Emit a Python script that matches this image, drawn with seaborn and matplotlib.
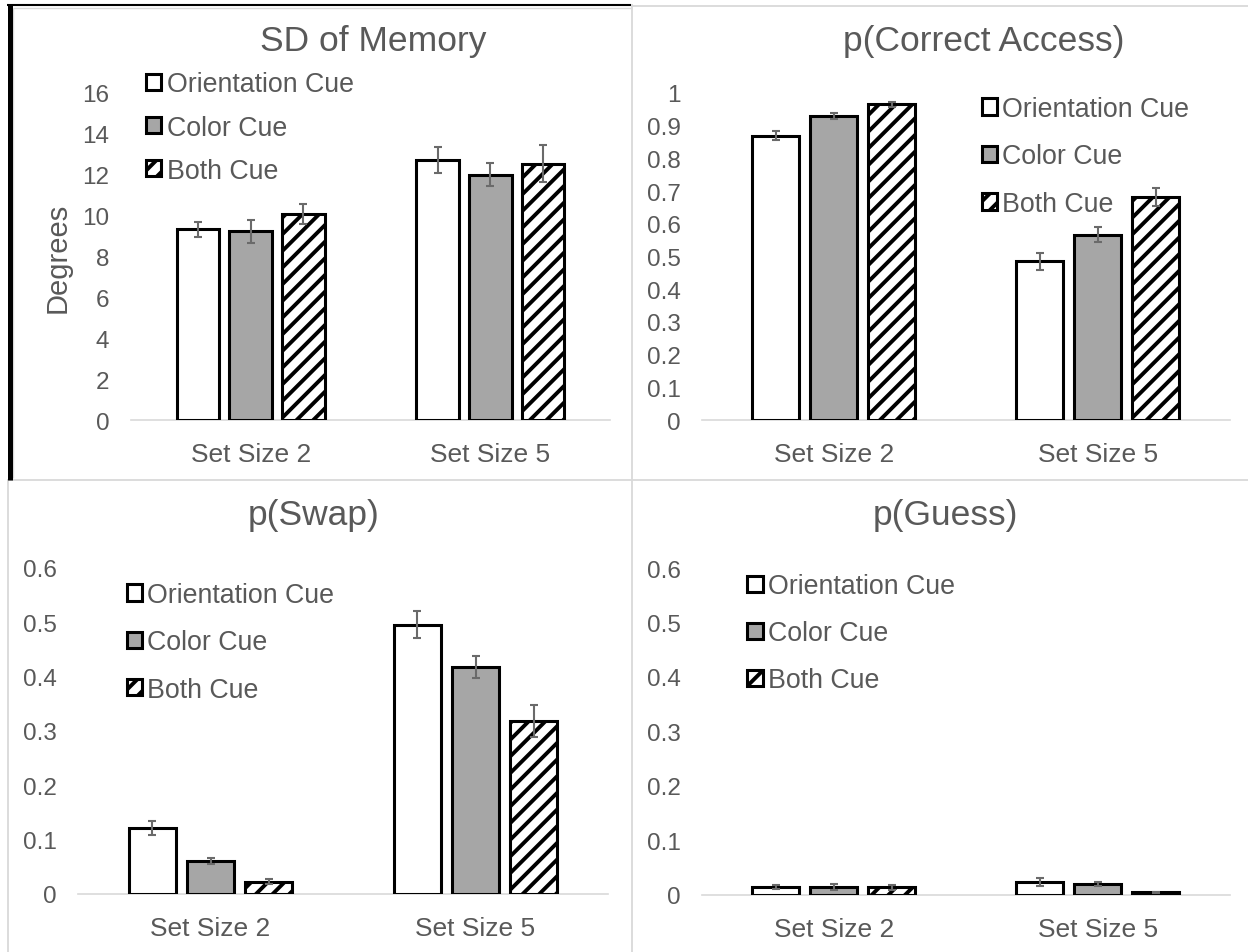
import numpy as np
import pandas as pd
import matplotlib
matplotlib.use("Agg")
import matplotlib.pyplot as plt
import seaborn as sns
from matplotlib.patches import Patch
from matplotlib.lines import Line2D

# ---------------- data ----------------
set_sizes = ["Set Size 2", "Set Size 5"]
cues = ["Orientation Cue", "Color Cue", "Both Cue"]

# rows: cues (Orientation, Color, Both); columns: set sizes (2, 5)
sd_means = [[9.33, 12.73], [9.23, 12.00], [10.07, 12.55]]
sd_errs = [[0.37, 0.64], [0.57, 0.56], [0.49, 0.91]]

access_means = [[0.870, 0.485], [0.929, 0.567], [0.965, 0.681]]
access_errs = [[0.013, 0.026], [0.009, 0.023], [0.007, 0.028]]

swap_means = [[0.121, 0.496], [0.061, 0.418], [0.023, 0.318]]
swap_errs = [[0.013, 0.024], [0.006, 0.020], [0.005, 0.029]]

guess_means = [[0.014, 0.023], [0.014, 0.019], [0.013, 0.004]]
guess_errs = [[0.004, 0.008], [0.005, 0.004], [0.004, 0.001]]

titles = ["SD of Memory", "p(Correct Access)", "p(Swap)", "p(Guess)"]

sd_ticks = [0, 2, 4, 6, 8, 10, 12, 14, 16]
sd_tick_labels = ["0", "2", "4", "6", "8", "10", "12", "14", "16"]
access_ticks = [0, 0.1, 0.2, 0.3, 0.4, 0.5, 0.6, 0.7, 0.8, 0.9, 1.0]
access_tick_labels = ["0", "0.1", "0.2", "0.3", "0.4", "0.5", "0.6", "0.7", "0.8", "0.9", "1"]
prob_ticks = [0, 0.1, 0.2, 0.3, 0.4, 0.5, 0.6]
prob_tick_labels = ["0", "0.1", "0.2", "0.3", "0.4", "0.5", "0.6"]

# ---------------- style ----------------
sns.set_style("white")
plt.rcParams["font.family"] = ["Liberation Sans", "DejaVu Sans"]
plt.rcParams["hatch.linewidth"] = 2.8
plt.rcParams["hatch.color"] = "black"

TEXT = "#595959"
fills = ["white", "#a6a6a6", "white"]
hatches = ["", "", "//"]

W, H = 1248, 953
fig = plt.figure(figsize=(W / 100, H / 100), dpi=100)


def px_rect(x0, y0, x1, y1):
    return [x0 / W, 1 - y1 / H, (x1 - x0) / W, (y1 - y0) / H]


def draw_panel(ax, means, errs, ticks, tick_labels, legend_xy, labelspacing):
    rows = [(set_sizes[j], cues[i], means[i][j]) for i in range(3) for j in range(2)]
    df = pd.DataFrame(rows, columns=["set_size", "cue", "value"])
    sns.barplot(data=df, x="set_size", y="value", hue="cue", order=set_sizes,
                hue_order=cues, palette=fills, saturation=1, width=0.66, gap=0.19,
                edgecolor="black", linewidth=2.2, errorbar=None, legend=False,
                ax=ax, zorder=3)
    bar_conts = list(ax.containers)
    for i, cont in enumerate(bar_conts):
        for j, bar in enumerate(cont):
            bar.set_hatch(hatches[i])
            x = bar.get_x() + bar.get_width() / 2
            ax.errorbar(x, means[i][j], yerr=errs[i][j], color="#6a6a6a",
                        elinewidth=1.5, capsize=2.6, capthick=1.5, zorder=5)
    ax.set_xlim(-0.5, 1.5)
    ax.set_ylim(ticks[0], ticks[-1])
    ax.set_yticks(ticks)
    ax.set_yticklabels(tick_labels)
    ax.set_xlabel("")
    ax.set_ylabel("")
    ax.tick_params(axis="y", length=0, pad=15.5, labelsize=17.5, labelcolor=TEXT)
    ax.tick_params(axis="x", length=0, pad=16, labelsize=19, labelcolor=TEXT)
    for s in ["left", "right", "top"]:
        ax.spines[s].set_visible(False)
    ax.spines["bottom"].set_color("#d9d9d9")
    ax.spines["bottom"].set_linewidth(1.2)
    ax.spines["bottom"].set_zorder(1)
    ax.set_facecolor("none")
    handles = [Patch(facecolor=fills[i], edgecolor="black", hatch=hatches[i],
                     linewidth=2.2, label=cues[i]) for i in range(3)]
    ax.legend(handles=handles, loc="upper left",
              bbox_to_anchor=(legend_xy[0] / W, 1 - legend_xy[1] / H),
              bbox_transform=fig.transFigure, frameon=False, borderpad=0,
              borderaxespad=0, fontsize=19.3, labelcolor=TEXT,
              handlelength=0.57, handleheight=0.57, handletextpad=0.2,
              labelspacing=labelspacing)


ax1 = fig.add_axes(px_rect(131, 94, 610, 421))
ax2 = fig.add_axes(px_rect(702, 94, 1229.5, 421))
ax3 = fig.add_axes(px_rect(78, 569, 608, 895))
ax4 = fig.add_axes(px_rect(702, 569, 1229.5, 895.5))

draw_panel(ax1, sd_means, sd_errs, sd_ticks, sd_tick_labels, (146, 72.5), 0.635)
draw_panel(ax2, access_means, access_errs, access_ticks, access_tick_labels, (981.6, 97), 0.80)
draw_panel(ax3, swap_means, swap_errs, prob_ticks, prob_tick_labels, (126.5, 583), 0.795)
draw_panel(ax4, guess_means, guess_errs, prob_ticks, prob_tick_labels, (747.4, 574.5), 0.78)

ax1.set_ylabel("Degrees", fontsize=21, color=TEXT, va="center")
ax1.yaxis.set_label_coords((58 - 131) / 479, 0.5)

title_pos = [(373.5, 51), (983.7, 51), (314, 525), (945, 525)]
for t, (tx, ty) in zip(titles, title_pos):
    fig.text(tx / W, 1 - ty / H, t, ha="center", va="baseline", fontsize=25.5, color=TEXT)

# panel frames
GRAY = "#d9d9d9"
def fline(xs, ys, color, lw):
    fig.add_artist(Line2D([x / W for x in xs], [1 - y / H for y in ys],
                          color=color, linewidth=lw, solid_capstyle="butt"))

fline([631.5, 631.5], [5, 953], GRAY, 1.3)
fline([7, 1248], [481, 481], GRAY, 1.3)
fline([631, 1248], [6.5, 6.5], GRAY, 1.3)
fline([7.5, 7.5], [481, 953], GRAY, 1.3)
fline([12.5, 631], [8.5, 8.5], GRAY, 1.0)
fline([12.5, 12.5], [8.5, 479], GRAY, 1.0)
fline([7, 631], [6, 6], "black", 1.5)
fline([9.5, 9.5], [5, 481], "black", 3.6)

fig.savefig("out.png", dpi=100)
